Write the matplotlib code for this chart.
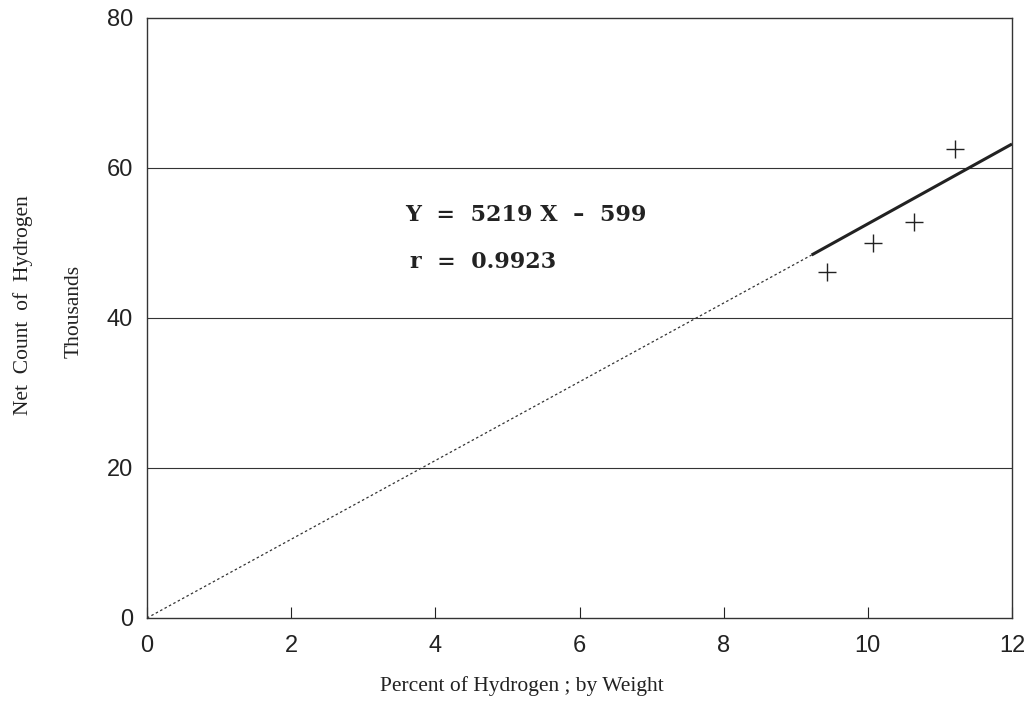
import numpy as np
import matplotlib.pyplot as plt

# measured points (percent H by weight, net count in thousands)
pct_h = [9.43, 10.07, 10.64, 11.21]
net_count = [46.2, 50.0, 52.8, 62.6]

# regression line as drawn: dotted part from origin, solid over data range
fit_dot_x = [0, 9.22]
fit_dot_y = [0, 48.4]
fit_solid_x = [9.22, 12]
fit_solid_y = [48.4, 63.2]

eq_text = 'Y  =  5219 X  \u2013  599'
r_text = 'r  =  0.9923'

x_ticks = [0, 2, 4, 6, 8, 10, 12]
y_ticks = [0, 20, 40, 60, 80]

W, H = 1028, 703

def fx(px):
    return px / W

def fy(py):
    return 1 - py / H

fig = plt.figure(figsize=(W / 100, H / 100), dpi=100)
ax = fig.add_axes([fx(147), fy(618), (1012 - 147) / W, (618 - 18) / H])

ax.set_xlim(0, 12)
ax.set_ylim(0, 80)
for yv in y_ticks[1:-1]:
    ax.axhline(yv, color='#333333', lw=0.8, zorder=1)

ax.plot(fit_dot_x, fit_dot_y, color='#333333', lw=0.9, linestyle=(0, (2, 2)), zorder=2)
ax.plot(fit_solid_x, fit_solid_y, color='#222222', lw=2.2, zorder=3, solid_capstyle='butt')
ax.plot(pct_h, net_count, linestyle='none', marker='+', markersize=13,
        markeredgewidth=1.0, color='#222222', zorder=4)

ax.set_xticks(x_ticks)
ax.set_yticks(y_ticks)
ax.tick_params(axis='x', direction='in', length=8, width=0.8, pad=12,
               labelsize=17, colors='#222222')
ax.tick_params(axis='y', direction='out', length=0, width=0.8, pad=10,
               labelsize=17, colors='#222222')
for lab in ax.get_xticklabels() + ax.get_yticklabels():
    lab.set_fontfamily('Liberation Sans')
for sp in ax.spines.values():
    sp.set_linewidth(1.0)
    sp.set_color('#333333')

fig.text(fx(405), fy(215), eq_text, fontsize=16, fontweight='bold',
         family='DejaVu Serif', va='center', ha='left', color='#222222')
fig.text(fx(410), fy(262), r_text, fontsize=16, fontweight='bold',
         family='DejaVu Serif', va='center', ha='left', color='#222222')

fig.text(fx(522), fy(686), 'Percent of Hydrogen ; by Weight',
         fontsize=15.5, family='Liberation Serif', ha='center', va='center', color='#222222')
fig.text(fx(23), fy(305), 'Net  Count  of  Hydrogen', rotation=90,
         fontsize=15.5, family='Liberation Serif', ha='center', va='center', color='#222222')
fig.text(fx(74), fy(311), 'Thousands', rotation=90,
         fontsize=15.5, family='Liberation Serif', ha='center', va='center', color='#222222')

fig.savefig('out.png', dpi=100, facecolor='white')
